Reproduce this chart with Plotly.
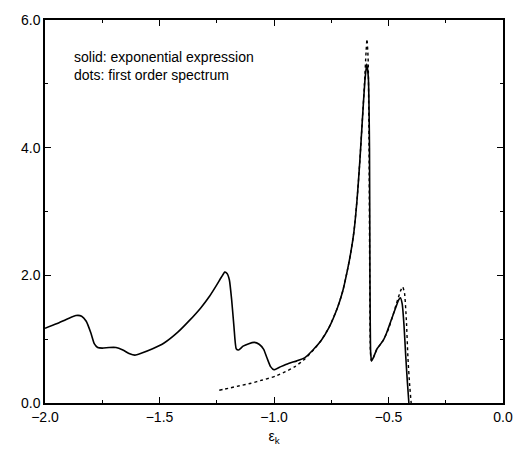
import plotly.graph_objects as go

solid_x = [-2.0, -1.95, -1.90, -1.865, -1.84, -1.82, -1.80, -1.785, -1.77, -1.75, -1.72, -1.69,
           -1.66, -1.63, -1.607, -1.58, -1.53, -1.48, -1.42, -1.37, -1.32, -1.28, -1.25, -1.23,
           -1.215, -1.205, -1.195, -1.185, -1.175, -1.165, -1.155, -1.135, -1.11, -1.086, -1.065,
           -1.045, -1.03, -1.015, -1.0, -0.97, -0.937, -0.90, -0.865, -0.83, -0.794, -0.76,
           -0.722, -0.70, -0.68, -0.665, -0.651, -0.637, -0.625, -0.613, -0.603, -0.595, -0.588,
           -0.583, -0.581, -0.578, -0.574, -0.565, -0.55, -0.523, -0.508, -0.49, -0.47, -0.455,
           -0.448, -0.44, -0.432, -0.425, -0.418, -0.411]
solid_y = [1.17, 1.24, 1.32, 1.37, 1.36, 1.28, 1.10, 0.93, 0.87, 0.86, 0.87, 0.87,
           0.83, 0.77, 0.75, 0.78, 0.85, 0.94, 1.11, 1.29, 1.49, 1.68, 1.85, 1.97,
           2.05, 2.03, 1.93, 1.62, 1.20, 0.85, 0.83, 0.89, 0.93, 0.95, 0.92,
           0.84, 0.70, 0.57, 0.52, 0.57, 0.62, 0.66, 0.71, 0.83, 0.98, 1.18,
           1.50, 1.75, 2.07, 2.35, 2.68, 3.2, 3.8, 4.5, 5.05, 5.31, 5.1,
           4.0, 2.0, 0.8, 0.66, 0.72, 0.85, 0.98, 1.10, 1.28, 1.48, 1.62,
           1.65, 1.55, 1.2, 0.75, 0.35, 0.0]

dots_x = [-1.239, -1.20, -1.15, -1.10, -1.05, -0.994, -0.95, -0.908, -0.865, -0.83, -0.794,
          -0.76, -0.722, -0.70, -0.68, -0.665, -0.651, -0.637, -0.625, -0.613, -0.605, -0.598,
          -0.594, -0.589, -0.585, -0.582, -0.579, -0.575, -0.565, -0.55, -0.523, -0.50, -0.48,
          -0.46, -0.447, -0.438, -0.43, -0.422, -0.415, -0.408, -0.401]
dots_y = [0.20, 0.23, 0.27, 0.31, 0.36, 0.42, 0.49, 0.57, 0.69, 0.82, 0.98,
          1.18, 1.50, 1.75, 2.07, 2.35, 2.68, 3.2, 3.8, 4.5, 5.0, 5.5,
          5.70, 5.4, 4.0, 2.0, 0.8, 0.66, 0.72, 0.85, 0.98, 1.16, 1.38,
          1.62, 1.76, 1.82, 1.72, 1.3, 0.7, 0.3, 0.0]

x_ticks = [-2.0, -1.5, -1.0, -0.5, 0.0]
y_ticks = [0.0, 2.0, 4.0, 6.0]

fig = go.Figure()
fig.add_trace(go.Scatter(x=solid_x, y=solid_y, mode="lines",
                         line=dict(color="black", width=1.6, shape="spline", smoothing=0.5),
                         showlegend=False))
fig.add_trace(go.Scatter(x=dots_x, y=dots_y, mode="lines",
                         line=dict(color="black", width=1.4, dash="dot", shape="spline", smoothing=0.5),
                         showlegend=False))

font = dict(family="Liberation Sans, Arial, sans-serif", size=14, color="black")
fig.update_layout(
    width=525, height=454,
    margin=dict(l=45, r=13, t=19, b=47),
    plot_bgcolor="white", paper_bgcolor="white",
    font=font,
    xaxis=dict(range=[-2.0, 0.0], tickvals=x_ticks, tickformat=".1f",
               tickfont=dict(color="black", size=14),
               showgrid=False, zeroline=False, showline=True, linecolor="black", linewidth=1.5,
               mirror="allticks", ticks="inside", ticklen=6, tickcolor="black",
               minor=dict(dtick=0.25, ticks="inside", ticklen=3, tickcolor="black"),
               title=dict(text="ε<sub>k</sub>", standoff=8, font=dict(color="black", size=14))),
    yaxis=dict(range=[0.0, 6.0], tickvals=y_ticks, tickformat=".1f",
               tickfont=dict(color="black", size=14),
               showgrid=False, zeroline=False, showline=True, linecolor="black", linewidth=1.5,
               mirror="allticks", ticks="inside", ticklen=6, tickcolor="black",
               minor=dict(dtick=1.0, ticks="inside", ticklen=3, tickcolor="black")),
    annotations=[dict(text="solid: exponential expression<br>dots: first order spectrum",
                      xref="paper", yref="paper", x=0.06, y=0.93, xanchor="left", yanchor="top",
                      align="left", showarrow=False, font=dict(size=14, color="black"))],
)
fig.write_html("out.html")
